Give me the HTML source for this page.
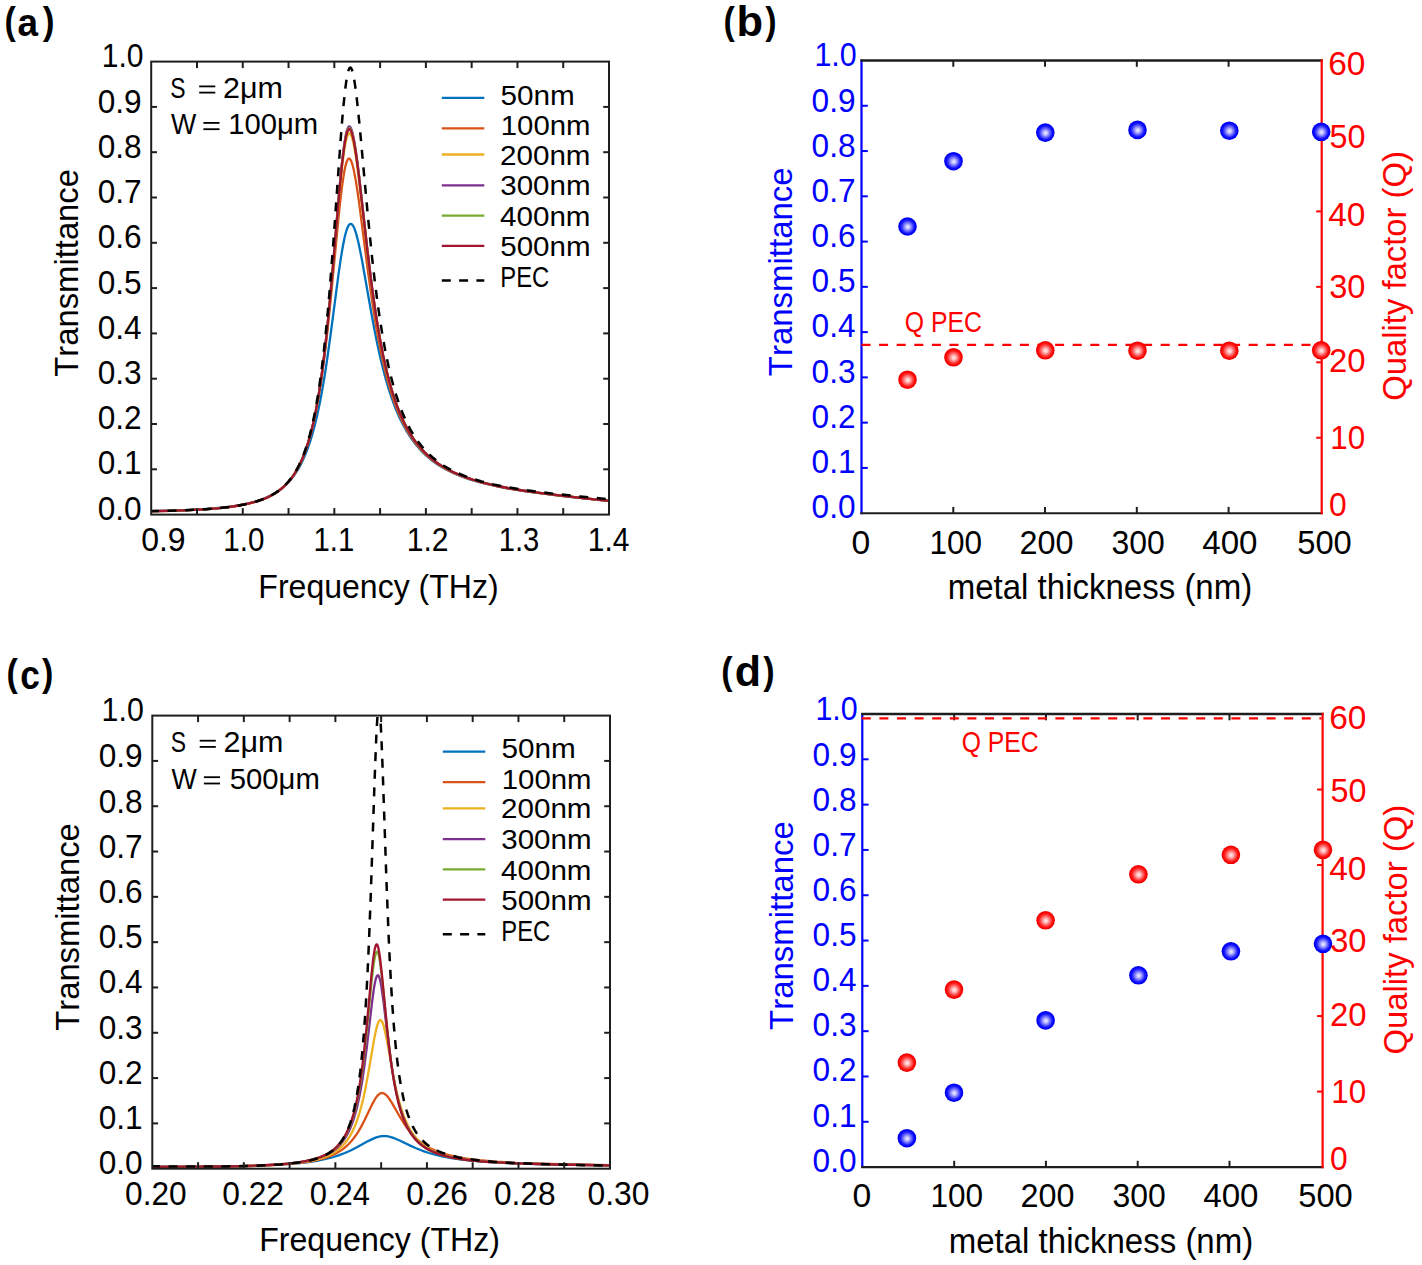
<!DOCTYPE html>
<html><head><meta charset="utf-8"><title>Transmittance and Q factor vs metal thickness</title>
<style>
html,body{margin:0;padding:0;background:#fff;}
body{width:1422px;height:1265px;overflow:hidden;}
svg{display:block;}
text{font-family:"Liberation Sans",sans-serif;font-kerning:none;white-space:pre;}
</style></head><body>
<svg width="1422" height="1265" viewBox="0 0 1422 1265">
<defs>
<radialGradient id="gb" cx="0.5" cy="0.5" r="0.5" fx="0.52" fy="0.53">
<stop offset="0" stop-color="#f2f2ff"/><stop offset="0.2" stop-color="#c4c4ff"/><stop offset="0.45" stop-color="#7070ff"/><stop offset="0.7" stop-color="#1c1cff"/><stop offset="0.86" stop-color="#0000ff"/><stop offset="1" stop-color="#0000e4"/>
</radialGradient>
<radialGradient id="gr" cx="0.5" cy="0.5" r="0.5" fx="0.52" fy="0.53">
<stop offset="0" stop-color="#fff2f2"/><stop offset="0.2" stop-color="#ffc4c4"/><stop offset="0.45" stop-color="#ff7070"/><stop offset="0.7" stop-color="#ff1c1c"/><stop offset="0.86" stop-color="#ff0000"/><stop offset="1" stop-color="#e40000"/>
</radialGradient>
</defs>
<rect width="1422" height="1265" fill="#fff"/>

<clipPath id="ca"><rect x="151.2" y="61.1" width="457.8" height="453.5"/></clipPath>
<g clip-path="url(#ca)" fill="none" stroke-width="2.3" stroke-linejoin="round" stroke-linecap="round">
<path d="M151.2,511.1 169.4,510.7 185.6,510.1 200.0,509.4 212.8,508.5 224.2,507.4 234.2,506.1 243.2,504.5 251.2,502.7 258.6,500.6 265.2,498.1 271.2,495.3 276.8,492.1 279.4,490.3 282.0,488.3 286.6,484.2 290.8,479.7 294.8,474.4 298.2,469.1 301.4,463.3 304.4,456.8 307.2,449.9 310.0,441.9 312.6,433.3 315.0,424.4 317.4,414.3 319.8,402.9 322.0,391.3 324.2,378.5 326.4,364.5 330.4,336.2 338.6,273.6 340.6,259.8 342.4,248.7 344.6,237.5 345.6,233.5 346.6,230.1 347.6,227.4 348.6,225.5 349.6,224.3 350.6,223.8 351.4,224.0 352.4,224.8 353.2,226.0 354.2,228.0 355.2,230.7 356.2,233.8 358.2,241.6 360.0,249.9 362.0,260.2 371.6,314.5 374.2,328.4 376.8,341.4 379.6,354.4 382.6,367.0 385.6,378.4 388.6,388.6 392.0,398.9 395.4,408.0 399.0,416.5 402.8,424.3 406.8,431.5 411.2,438.4 415.8,444.5 420.6,450.1 426.0,455.4 429.0,458.0 432.0,460.5 438.4,465.0 445.2,469.0 452.6,472.7 460.8,476.2 469.6,479.3 479.4,482.2 489.6,484.7 501.0,487.1 513.6,489.4 527.8,491.6 544.0,493.7 562.6,496.0 584.6,498.4 609.0,500.9" stroke="#0072BD"/>
<path d="M151.2,511.2 170.6,510.8 187.8,510.2 202.8,509.4 216.0,508.4 227.6,507.2 237.8,505.7 246.8,504.0 254.8,501.9 262.0,499.6 265.4,498.2 268.6,496.8 271.6,495.2 274.6,493.5 277.4,491.7 280.0,489.8 282.6,487.6 285.0,485.4 287.2,483.2 289.4,480.7 291.6,477.9 293.6,475.1 297.4,468.9 300.8,462.3 303.8,455.3 306.6,447.6 309.4,438.7 312.0,429.0 314.4,418.6 316.8,406.8 319.0,394.4 321.2,380.4 323.2,366.2 325.2,350.5 327.4,331.4 331.0,296.5 338.4,218.8 340.2,201.7 341.8,188.2 343.6,175.6 344.6,170.0 345.4,166.2 346.4,162.6 347.2,160.5 348.0,159.2 348.4,158.8 349.0,158.5 349.8,158.9 350.6,160.0 351.4,161.6 352.2,163.9 353.0,166.8 354.0,171.1 355.8,180.6 357.4,190.7 359.2,203.4 368.0,271.7 372.8,305.6 375.4,322.0 378.2,338.0 381.0,352.4 384.0,366.0 387.2,378.9 390.6,390.8 394.2,401.8 397.8,411.3 401.8,420.4 406.0,428.6 410.4,435.9 415.2,442.8 417.8,446.1 420.6,449.3 423.4,452.2 426.4,455.1 429.6,458.0 432.8,460.5 436.2,463.0 439.6,465.3 443.4,467.6 447.2,469.7 451.2,471.8 455.4,473.7 464.4,477.3 474.2,480.5 484.6,483.3 496.2,486.0 509.2,488.5 523.8,490.9 540.6,493.2 560.0,495.7 583.2,498.2 609.0,500.9" stroke="#D95319"/>
<path d="M151.2,511.2 170.8,510.8 188.2,510.2 203.4,509.4 216.8,508.3 228.4,507.1 238.8,505.6 248.0,503.7 256.0,501.6 263.2,499.2 266.6,497.8 269.8,496.3 272.8,494.6 275.8,492.8 278.6,490.9 281.2,488.9 283.8,486.7 286.2,484.3 288.4,482.0 290.6,479.3 292.8,476.4 294.8,473.4 296.8,470.1 298.6,466.8 302.0,459.7 305.0,452.2 307.8,444.0 310.6,434.3 313.2,423.8 315.6,412.5 318.0,399.5 320.2,385.9 322.4,370.4 324.4,354.7 326.4,337.2 328.4,318.0 332.0,279.4 339.0,198.2 340.6,181.2 342.2,166.1 344.0,152.0 345.0,145.7 345.8,141.5 346.8,137.5 347.6,135.2 348.4,133.8 348.8,133.4 349.2,133.2 349.6,133.3 350.0,133.5 350.8,134.6 351.6,136.5 352.4,139.0 354.0,146.0 355.8,156.4 357.4,167.6 359.2,181.8 367.8,256.0 372.4,292.1 375.0,310.2 377.8,327.9 380.6,343.6 383.4,357.6 386.6,371.7 389.8,384.0 393.2,395.4 396.8,405.9 400.6,415.3 404.8,424.3 409.2,432.3 411.6,436.2 414.0,439.7 416.6,443.3 419.4,446.7 422.2,449.9 425.2,453.0 428.4,456.0 431.6,458.8 435.0,461.4 438.4,463.9 442.0,466.2 445.8,468.4 449.8,470.6 454.0,472.6 458.4,474.5 463.0,476.4 472.8,479.8 483.4,482.8 495.0,485.5 508.0,488.1 522.8,490.6 539.6,493.0 559.2,495.5 582.6,498.1 609.0,500.8" stroke="#EDB120"/>
<path d="M151.2,511.2 170.8,510.8 188.4,510.2 203.6,509.3 217.0,508.3 228.6,507.1 239.0,505.5 248.2,503.7 256.2,501.6 263.4,499.1 266.8,497.7 270.0,496.1 273.0,494.5 276.0,492.7 278.8,490.7 281.4,488.7 284.0,486.5 286.4,484.1 288.6,481.7 290.8,479.0 293.0,476.0 295.0,473.0 297.0,469.7 298.8,466.4 302.2,459.1 305.2,451.5 308.0,443.1 310.8,433.2 313.4,422.5 315.8,411.0 318.2,397.7 320.4,383.8 322.4,369.5 324.4,353.5 326.4,335.7 328.4,316.2 332.0,276.9 339.2,191.2 340.8,174.0 342.4,158.7 344.2,144.4 345.8,135.0 346.8,130.8 347.6,128.5 348.4,127.0 348.8,126.6 349.2,126.4 349.6,126.5 350.0,126.7 350.8,127.9 351.6,129.8 352.4,132.4 354.0,139.6 355.8,150.5 357.4,162.0 359.0,174.9 367.6,251.2 372.2,288.3 374.8,306.9 377.6,325.0 380.4,341.2 383.2,355.5 386.4,370.0 389.6,382.5 393.0,394.1 396.6,404.8 400.4,414.4 404.6,423.5 409.0,431.7 411.4,435.6 413.8,439.2 416.4,442.8 419.2,446.3 422.0,449.5 425.0,452.6 428.0,455.5 431.2,458.3 434.6,461.0 438.0,463.5 441.6,465.8 445.4,468.1 449.4,470.3 453.6,472.3 458.0,474.3 462.6,476.2 472.4,479.6 483.0,482.6 494.6,485.4 507.6,488.0 522.4,490.5 539.2,492.9 559.0,495.4 582.6,498.1 609.0,500.8" stroke="#7E2F8E"/>
<path d="M151.2,511.2 170.8,510.8 188.4,510.2 203.6,509.3 217.0,508.3 228.6,507.1 239.0,505.5 248.2,503.7 256.2,501.6 263.4,499.1 266.8,497.7 270.0,496.1 273.0,494.5 276.0,492.7 278.8,490.8 281.4,488.7 284.0,486.5 286.4,484.1 288.6,481.7 290.8,479.0 293.0,476.1 295.0,473.0 297.0,469.7 298.8,466.4 302.2,459.2 305.2,451.5 308.0,443.2 310.8,433.3 313.4,422.6 315.8,411.1 318.2,397.9 320.4,384.0 322.4,369.7 324.4,353.8 326.4,336.1 328.4,316.7 332.0,277.6 339.0,194.7 340.6,177.4 342.2,162.0 344.0,147.5 345.0,141.0 345.8,136.8 346.8,132.6 347.6,130.3 348.4,128.8 348.8,128.4 349.2,128.2 349.6,128.3 350.0,128.5 350.8,129.7 351.6,131.6 352.4,134.1 354.0,141.3 355.8,152.1 357.4,163.5 359.0,176.3 367.6,252.0 370.0,271.9 372.4,290.4 375.0,308.8 377.6,325.5 380.4,341.6 383.2,355.8 386.4,370.2 389.6,382.7 393.0,394.3 396.6,404.9 400.4,414.5 404.6,423.6 409.0,431.8 411.4,435.7 413.8,439.3 416.4,442.8 419.2,446.3 422.0,449.6 425.0,452.7 428.0,455.6 431.2,458.3 434.6,461.0 438.0,463.5 441.6,465.9 445.4,468.1 449.4,470.3 453.6,472.4 458.0,474.3 462.6,476.2 467.4,477.9 472.6,479.7 483.2,482.7 494.8,485.4 507.8,488.0 522.6,490.5 539.4,492.9 559.2,495.4 582.6,498.1 609.0,500.8" stroke="#77AC30"/>
<path d="M151.2,511.2 170.8,510.8 188.4,510.2 203.6,509.3 217.0,508.3 228.6,507.1 239.0,505.5 248.2,503.7 256.2,501.6 263.4,499.1 266.8,497.7 270.0,496.1 273.0,494.5 276.0,492.7 278.8,490.8 281.4,488.7 284.0,486.5 286.4,484.1 288.6,481.7 290.8,479.0 293.0,476.1 295.0,473.1 297.0,469.7 298.8,466.4 302.2,459.2 305.2,451.6 308.0,443.2 310.8,433.4 313.4,422.6 315.8,411.2 318.2,397.9 320.4,384.1 322.4,369.8 324.4,354.0 326.4,336.3 328.4,316.9 332.0,277.9 339.0,195.4 340.6,178.1 342.2,162.7 344.0,148.3 345.0,141.9 345.8,137.6 346.8,133.5 347.6,131.2 348.4,129.7 348.8,129.3 349.2,129.1 349.6,129.2 350.0,129.5 350.8,130.6 351.6,132.4 352.4,135.0 354.0,142.1 355.8,152.8 357.4,164.3 359.0,177.0 367.6,252.4 370.0,272.2 372.4,290.7 375.0,309.1 377.6,325.7 380.4,341.7 383.2,356.0 386.4,370.3 389.6,382.8 393.0,394.4 396.6,405.0 400.4,414.6 404.6,423.7 409.0,431.8 411.4,435.7 413.8,439.3 416.4,442.9 419.2,446.4 422.0,449.6 425.0,452.7 428.0,455.6 431.2,458.4 434.6,461.1 438.0,463.5 441.6,465.9 445.4,468.1 449.4,470.3 453.6,472.4 458.0,474.3 462.6,476.2 467.4,477.9 472.6,479.7 483.2,482.7 494.8,485.5 507.8,488.0 522.6,490.5 539.4,492.9 559.2,495.4 582.6,498.1 609.0,500.8" stroke="#A2142F"/>
<path d="M151.2,511.1 171.4,510.7 189.6,510.0 205.4,509.2 219.0,508.1 230.8,506.7 241.2,505.1 250.4,503.1 254.6,502.0 258.6,500.7 262.4,499.4 266.0,497.9 269.4,496.3 272.6,494.6 275.6,492.8 278.4,490.8 281.2,488.6 283.8,486.4 286.2,484.0 288.6,481.3 290.8,478.6 293.0,475.5 295.0,472.4 297.0,469.0 299.0,465.1 300.8,461.3 304.0,453.5 307.0,444.7 309.8,435.0 312.6,423.5 315.2,410.9 317.6,397.3 319.8,383.0 322.0,366.6 324.0,349.6 326.0,330.6 327.8,311.7 329.8,288.5 333.4,241.8 340.4,142.8 342.0,122.3 343.4,106.4 345.2,89.3 346.2,81.8 347.0,76.8 347.8,72.9 348.6,70.1 349.4,68.3 349.8,67.8 350.4,67.5 350.8,67.8 351.2,68.2 351.8,69.5 352.6,71.9 353.4,75.3 355.0,84.6 356.6,96.8 359.6,125.4 367.6,213.0 372.0,256.8 374.4,278.0 377.0,298.7 379.6,317.2 382.4,334.8 385.4,351.4 388.6,366.7 392.0,380.7 395.6,393.4 399.4,404.8 403.4,415.1 405.6,420.0 407.8,424.6 410.0,428.8 412.4,433.0 415.0,437.1 417.6,440.9 420.4,444.6 423.4,448.2 426.4,451.5 429.6,454.7 433.0,457.7 436.4,460.5 440.0,463.1 443.8,465.7 447.8,468.1 452.0,470.3 456.4,472.5 461.0,474.5 465.8,476.4 471.0,478.3 481.6,481.5 493.4,484.4 506.4,487.1 521.2,489.5 537.8,491.8 557.0,494.1 580.2,496.5 609.0,499.2" stroke="#000" stroke-width="2.5" stroke-dasharray="9 8.6" stroke-dashoffset="1.27" stroke-linecap="butt"/>
</g>
<line x1="196.98" y1="514.6" x2="196.98" y2="508.1" stroke="#1e1e1e" stroke-width="2"/>
<line x1="196.98" y1="61.6" x2="196.98" y2="68.1" stroke="#1e1e1e" stroke-width="2"/>
<line x1="242.76" y1="514.6" x2="242.76" y2="508.1" stroke="#1e1e1e" stroke-width="2"/>
<line x1="242.76" y1="61.6" x2="242.76" y2="68.1" stroke="#1e1e1e" stroke-width="2"/>
<line x1="288.54" y1="514.6" x2="288.54" y2="508.1" stroke="#1e1e1e" stroke-width="2"/>
<line x1="288.54" y1="61.6" x2="288.54" y2="68.1" stroke="#1e1e1e" stroke-width="2"/>
<line x1="334.32" y1="514.6" x2="334.32" y2="508.1" stroke="#1e1e1e" stroke-width="2"/>
<line x1="334.32" y1="61.6" x2="334.32" y2="68.1" stroke="#1e1e1e" stroke-width="2"/>
<line x1="380.1" y1="514.6" x2="380.1" y2="508.1" stroke="#1e1e1e" stroke-width="2"/>
<line x1="380.1" y1="61.6" x2="380.1" y2="68.1" stroke="#1e1e1e" stroke-width="2"/>
<line x1="425.88" y1="514.6" x2="425.88" y2="508.1" stroke="#1e1e1e" stroke-width="2"/>
<line x1="425.88" y1="61.6" x2="425.88" y2="68.1" stroke="#1e1e1e" stroke-width="2"/>
<line x1="471.66" y1="514.6" x2="471.66" y2="508.1" stroke="#1e1e1e" stroke-width="2"/>
<line x1="471.66" y1="61.6" x2="471.66" y2="68.1" stroke="#1e1e1e" stroke-width="2"/>
<line x1="517.44" y1="514.6" x2="517.44" y2="508.1" stroke="#1e1e1e" stroke-width="2"/>
<line x1="517.44" y1="61.6" x2="517.44" y2="68.1" stroke="#1e1e1e" stroke-width="2"/>
<line x1="563.22" y1="514.6" x2="563.22" y2="508.1" stroke="#1e1e1e" stroke-width="2"/>
<line x1="563.22" y1="61.6" x2="563.22" y2="68.1" stroke="#1e1e1e" stroke-width="2"/>
<line x1="151.2" y1="106.9" x2="157" y2="106.9" stroke="#1e1e1e" stroke-width="2"/>
<line x1="609" y1="106.9" x2="603.2" y2="106.9" stroke="#1e1e1e" stroke-width="2"/>
<line x1="151.2" y1="152.2" x2="157" y2="152.2" stroke="#1e1e1e" stroke-width="2"/>
<line x1="609" y1="152.2" x2="603.2" y2="152.2" stroke="#1e1e1e" stroke-width="2"/>
<line x1="151.2" y1="197.5" x2="157" y2="197.5" stroke="#1e1e1e" stroke-width="2"/>
<line x1="609" y1="197.5" x2="603.2" y2="197.5" stroke="#1e1e1e" stroke-width="2"/>
<line x1="151.2" y1="242.8" x2="157" y2="242.8" stroke="#1e1e1e" stroke-width="2"/>
<line x1="609" y1="242.8" x2="603.2" y2="242.8" stroke="#1e1e1e" stroke-width="2"/>
<line x1="151.2" y1="288.1" x2="157" y2="288.1" stroke="#1e1e1e" stroke-width="2"/>
<line x1="609" y1="288.1" x2="603.2" y2="288.1" stroke="#1e1e1e" stroke-width="2"/>
<line x1="151.2" y1="333.4" x2="157" y2="333.4" stroke="#1e1e1e" stroke-width="2"/>
<line x1="609" y1="333.4" x2="603.2" y2="333.4" stroke="#1e1e1e" stroke-width="2"/>
<line x1="151.2" y1="378.7" x2="157" y2="378.7" stroke="#1e1e1e" stroke-width="2"/>
<line x1="609" y1="378.7" x2="603.2" y2="378.7" stroke="#1e1e1e" stroke-width="2"/>
<line x1="151.2" y1="424" x2="157" y2="424" stroke="#1e1e1e" stroke-width="2"/>
<line x1="609" y1="424" x2="603.2" y2="424" stroke="#1e1e1e" stroke-width="2"/>
<line x1="151.2" y1="469.3" x2="157" y2="469.3" stroke="#1e1e1e" stroke-width="2"/>
<line x1="609" y1="469.3" x2="603.2" y2="469.3" stroke="#1e1e1e" stroke-width="2"/>
<rect x="151.2" y="61.6" width="457.8" height="453" fill="none" stroke="#1e1e1e" stroke-width="2"/>
<text transform="translate(101.71 66.6) scale(0.9244 1)" font-size="32.5" fill="#000">1.0</text>
<text transform="translate(97.66 112.8) scale(0.9730 1)" font-size="32.5" fill="#000">0.9</text>
<text transform="translate(97.66 158) scale(0.9730 1)" font-size="32.5" fill="#000">0.8</text>
<text transform="translate(97.66 203.2) scale(0.9730 1)" font-size="32.5" fill="#000">0.7</text>
<text transform="translate(97.66 248.4) scale(0.9730 1)" font-size="32.5" fill="#000">0.6</text>
<text transform="translate(97.66 293.6) scale(0.9730 1)" font-size="32.5" fill="#000">0.5</text>
<text transform="translate(97.66 338.8) scale(0.9730 1)" font-size="32.5" fill="#000">0.4</text>
<text transform="translate(97.66 384) scale(0.9730 1)" font-size="32.5" fill="#000">0.3</text>
<text transform="translate(97.66 429.2) scale(0.9730 1)" font-size="32.5" fill="#000">0.2</text>
<text transform="translate(97.66 474.4) scale(0.9730 1)" font-size="32.5" fill="#000">0.1</text>
<text transform="translate(97.66 519.6) scale(0.9730 1)" font-size="32.5" fill="#000">0.0</text>
<text transform="translate(141.15 551) scale(0.9842 1)" font-size="32.5" fill="#000">0.9</text>
<text transform="translate(223.35 551) scale(0.9099 1)" font-size="32.5" fill="#000">1.0</text>
<text transform="translate(313.57 551) scale(0.9023 1)" font-size="32.5" fill="#000">1.1</text>
<text transform="translate(406.71 551) scale(0.9253 1)" font-size="32.5" fill="#000">1.2</text>
<text transform="translate(498.78 551) scale(0.8964 1)" font-size="32.5" fill="#000">1.3</text>
<text transform="translate(587.72 551) scale(0.9221 1)" font-size="32.5" fill="#000">1.4</text>
<line x1="441.8" y1="97.8" x2="484.3" y2="97.8" stroke="#0072BD" stroke-width="2.3"/>
<line x1="441.8" y1="128.4" x2="484.3" y2="128.4" stroke="#D95319" stroke-width="2.3"/>
<line x1="441.8" y1="154.5" x2="484.3" y2="154.5" stroke="#EDB120" stroke-width="2.3"/>
<line x1="441.8" y1="185.3" x2="484.3" y2="185.3" stroke="#7E2F8E" stroke-width="2.3"/>
<line x1="441.8" y1="215.6" x2="484.3" y2="215.6" stroke="#77AC30" stroke-width="2.3"/>
<line x1="441.8" y1="245.8" x2="484.3" y2="245.8" stroke="#A2142F" stroke-width="2.3"/>
<line x1="441.8" y1="280.5" x2="484.3" y2="280.5" stroke="#000" stroke-width="2.5" stroke-dasharray="9 8.3"/>
<text transform="translate(500.41 104.5) scale(1.0615 1)" font-size="28" fill="#000">50nm</text>
<text transform="translate(500.76 135.4) scale(1.0486 1)" font-size="28" fill="#000">100nm</text>
<text transform="translate(500.11 164.6) scale(1.0563 1)" font-size="28" fill="#000">200nm</text>
<text transform="translate(500.28 195.4) scale(1.0544 1)" font-size="28" fill="#000">300nm</text>
<text transform="translate(500.12 226.1) scale(1.0562 1)" font-size="28" fill="#000">400nm</text>
<text transform="translate(500.22 256.4) scale(1.0551 1)" font-size="28" fill="#000">500nm</text>
<text transform="translate(500.35 287.1) scale(0.8072 1)" font-size="29.5" fill="#000">PEC</text>
<text transform="translate(258.37 597.7) scale(0.9426 1)" font-size="34" fill="#000">Frequency (THz)</text>
<text transform="translate(77.9 376.64) rotate(-90) scale(0.9642 1)" font-size="34" fill="#000">Transmittance</text>
<text transform="translate(170.36 97.6) scale(0.7567 1)" font-size="30.3" fill="#000">S</text>
<rect x="199.2" y="85.5" width="16.1" height="1.8" fill="#000"/>
<rect x="199.2" y="91.7" width="16.1" height="1.8" fill="#000"/>
<text transform="translate(222.97 97.6) scale(1.0066 1)" font-size="30.3" fill="#000">2μm</text>
<text transform="translate(170.98 134.4) scale(0.8815 1)" font-size="30.3" fill="#000">W</text>
<rect x="203.4" y="122" width="16.1" height="1.8" fill="#000"/>
<rect x="203.4" y="128.3" width="16.1" height="1.8" fill="#000"/>
<text transform="translate(228.17 134.4) scale(0.9657 1)" font-size="30.3" fill="#000">100μm</text>
<text transform="translate(4.51 33.89) scale(0.8807 1)" font-size="38.62" fill="#000" font-weight="bold">(</text>
<text transform="translate(17.62 35.51) scale(0.9371 1)" font-size="39.43" fill="#000" font-weight="bold">a</text>
<text transform="translate(42.87 33.89) scale(0.9174 1)" font-size="38.62" fill="#000" font-weight="bold">)</text>
<clipPath id="cc"><rect x="152.3" y="715.1" width="457.7" height="453.6"/></clipPath>
<g clip-path="url(#cc)" fill="none" stroke-width="2.3" stroke-linejoin="round" stroke-linecap="round">
<path d="M152.3,1166.9 181.1,1166.9 208.7,1166.7 232.7,1166.3 253.1,1165.8 270.1,1165.1 284.7,1164.3 297.3,1163.3 308.5,1162.0 316.9,1160.8 324.7,1159.2 331.9,1157.5 338.5,1155.4 344.9,1153.0 351.1,1150.2 356.9,1147.3 368.1,1141.1 373.3,1138.6 376.3,1137.4 379.1,1136.7 381.7,1136.2 384.3,1136.1 386.7,1136.2 389.1,1136.6 391.7,1137.3 394.3,1138.2 399.1,1140.2 410.3,1145.6 416.1,1148.2 422.5,1150.8 429.1,1153.0 435.9,1154.9 443.3,1156.6 451.3,1158.0 460.1,1159.3 471.1,1160.6 483.5,1161.6 497.5,1162.5 513.5,1163.3 531.7,1163.9 552.9,1164.4 609.9,1165.3" stroke="#0072BD"/>
<path d="M152.3,1166.8 187.9,1166.8 222.5,1166.6 250.3,1166.0 272.5,1165.1 289.7,1163.9 297.1,1163.2 303.9,1162.4 309.9,1161.5 315.5,1160.4 320.7,1159.2 325.3,1157.8 329.3,1156.4 333.1,1154.8 336.7,1153.0 339.9,1151.1 342.9,1149.1 345.9,1146.6 348.7,1144.0 351.3,1141.2 353.7,1138.3 355.9,1135.3 358.3,1131.6 360.5,1127.9 364.5,1120.3 372.3,1104.1 375.3,1098.7 377.1,1096.1 378.7,1094.4 380.3,1093.4 381.1,1093.1 381.9,1093.0 383.5,1093.3 385.1,1094.2 386.9,1095.8 388.7,1098.0 391.9,1102.9 400.1,1117.2 404.7,1124.6 407.1,1128.0 409.7,1131.4 412.3,1134.4 414.9,1137.2 417.9,1140.0 420.9,1142.4 424.1,1144.7 427.3,1146.7 430.9,1148.6 434.7,1150.4 438.7,1152.0 442.9,1153.4 447.9,1154.9 453.1,1156.1 458.9,1157.3 465.1,1158.4 471.9,1159.3 479.3,1160.2 496.3,1161.6 516.3,1162.8 540.7,1163.7 570.7,1164.4 609.9,1165.1" stroke="#D95319"/>
<path d="M152.3,1166.8 194.5,1166.8 233.7,1166.4 249.3,1166.0 263.1,1165.5 275.1,1164.9 285.5,1164.2 294.5,1163.3 302.3,1162.4 309.3,1161.2 315.5,1159.9 321.1,1158.3 326.1,1156.5 330.7,1154.4 334.9,1152.0 338.5,1149.5 341.9,1146.4 345.1,1143.0 347.9,1139.3 350.5,1135.1 353.1,1130.1 355.3,1125.1 357.5,1119.2 359.5,1113.0 361.3,1106.6 363.1,1099.3 364.9,1091.1 368.1,1074.3 373.7,1041.6 375.9,1030.6 377.1,1025.9 378.3,1022.5 378.9,1021.3 379.5,1020.5 379.9,1020.2 380.5,1020.1 380.9,1020.2 381.5,1020.8 382.5,1022.6 383.5,1025.4 384.7,1029.9 386.7,1039.4 392.5,1071.4 395.7,1087.2 397.5,1095.0 399.3,1101.9 401.3,1108.7 403.3,1114.6 405.7,1120.6 408.1,1125.8 410.7,1130.5 413.5,1134.7 416.5,1138.5 419.7,1141.9 423.3,1145.0 427.1,1147.6 431.5,1150.2 436.3,1152.4 441.5,1154.3 447.3,1156.0 453.7,1157.4 460.9,1158.7 468.9,1159.9 477.9,1160.9 487.7,1161.7 498.7,1162.4 525.3,1163.6 559.5,1164.5 609.9,1165.4" stroke="#EDB120"/>
<path d="M152.3,1166.8 196.9,1166.8 218.3,1166.6 237.1,1166.2 252.7,1165.8 266.3,1165.2 277.9,1164.5 288.1,1163.7 296.9,1162.7 304.7,1161.5 311.5,1160.1 317.5,1158.5 322.9,1156.5 327.7,1154.3 332.1,1151.7 335.9,1148.9 339.5,1145.4 342.7,1141.6 345.7,1137.2 348.3,1132.5 350.7,1127.2 353.1,1120.8 355.3,1113.7 357.3,1106.1 359.1,1098.0 360.7,1089.7 362.5,1079.1 364.1,1068.4 366.9,1046.7 372.1,1001.8 373.9,988.6 374.9,982.9 375.9,978.6 376.9,976.0 377.3,975.5 377.9,975.2 378.3,975.5 378.7,976.0 379.7,978.7 380.5,982.0 381.5,987.6 383.5,1001.9 388.9,1046.5 391.5,1065.3 393.1,1075.4 394.9,1085.4 396.7,1094.1 398.5,1101.7 400.7,1109.6 402.9,1116.2 405.3,1122.2 407.9,1127.7 410.7,1132.5 413.9,1137.0 417.3,1140.9 421.1,1144.4 425.3,1147.5 429.9,1150.1 435.1,1152.5 440.7,1154.5 447.1,1156.3 454.1,1157.8 462.1,1159.2 471.3,1160.4 481.3,1161.3 492.5,1162.2 505.3,1162.9 520.1,1163.5 555.9,1164.5 609.9,1165.4" stroke="#7E2F8E"/>
<path d="M152.3,1166.8 198.1,1166.8 219.7,1166.5 238.7,1166.2 254.3,1165.7 267.9,1165.1 279.5,1164.4 289.7,1163.4 298.5,1162.3 306.1,1161.0 312.7,1159.5 318.7,1157.7 323.9,1155.7 328.7,1153.2 332.9,1150.4 336.7,1147.2 340.1,1143.5 343.3,1139.2 346.1,1134.5 348.7,1129.1 351.1,1123.0 353.5,1115.6 355.5,1108.1 357.5,1099.1 359.1,1090.7 360.7,1081.1 362.3,1070.0 363.9,1057.5 366.7,1031.9 371.5,982.6 373.3,966.8 374.3,960.0 375.3,955.0 375.9,953.1 376.3,952.2 376.7,951.8 377.1,951.7 377.5,952.0 377.9,952.6 378.7,955.1 379.5,959.0 380.5,965.6 382.5,982.7 387.5,1032.0 389.9,1052.7 391.5,1064.8 393.1,1075.4 394.9,1085.8 396.7,1094.7 398.7,1103.1 400.9,1110.9 403.3,1117.9 405.9,1124.2 408.7,1129.7 411.7,1134.5 415.1,1138.9 418.9,1142.8 422.9,1146.1 427.5,1149.1 432.5,1151.6 438.1,1153.8 444.5,1155.8 451.5,1157.4 459.5,1158.9 468.7,1160.1 478.7,1161.1 490.1,1162.0 503.1,1162.8 517.9,1163.4 554.5,1164.5 609.9,1165.4" stroke="#77AC30"/>
<path d="M152.3,1166.8 198.7,1166.7 220.3,1166.5 239.3,1166.1 254.9,1165.7 268.5,1165.0 280.1,1164.3 290.1,1163.4 298.7,1162.3 306.3,1160.9 312.9,1159.4 318.9,1157.5 324.1,1155.4 328.9,1152.9 333.1,1150.0 336.9,1146.6 340.3,1142.8 343.5,1138.3 346.3,1133.3 348.9,1127.7 351.3,1121.2 353.5,1114.1 355.5,1106.2 357.5,1096.9 359.1,1088.1 360.7,1077.9 362.3,1066.3 363.9,1053.0 366.5,1028.0 371.3,976.3 373.1,959.8 374.1,952.7 374.9,948.4 375.5,946.2 375.9,945.2 376.3,944.6 376.7,944.4 377.1,944.6 377.5,945.2 378.3,947.7 379.1,951.7 380.1,958.5 382.1,976.4 387.1,1028.2 389.5,1049.9 391.1,1062.4 392.7,1073.4 394.3,1083.0 396.1,1092.4 398.1,1101.3 400.3,1109.4 402.7,1116.7 405.3,1123.2 408.1,1129.0 411.1,1133.9 414.5,1138.4 418.1,1142.3 422.1,1145.6 426.7,1148.7 431.7,1151.3 437.3,1153.6 443.7,1155.6 450.7,1157.3 458.7,1158.8 467.7,1160.0 477.7,1161.1 489.1,1162.0 502.1,1162.7 517.1,1163.4 553.9,1164.5 609.9,1165.4" stroke="#A2142F"/>
<path d="M152.3,1166.2 173.7,1166.6 199.5,1166.6 225.5,1166.4 248.3,1166.0 265.7,1165.3 280.1,1164.5 292.1,1163.3 302.3,1161.9 310.7,1160.2 314.5,1159.2 317.9,1158.2 321.3,1156.9 324.3,1155.6 327.1,1154.2 329.7,1152.6 332.1,1151.0 334.5,1149.0 336.7,1147.0 338.7,1144.8 340.7,1142.3 342.5,1139.7 344.3,1136.7 345.9,1133.7 347.5,1130.2 348.9,1126.8 350.3,1122.8 351.7,1118.4 353.1,1113.3 354.3,1108.3 356.5,1097.4 358.5,1085.0 360.3,1071.2 362.1,1054.1 363.7,1035.5 365.1,1015.9 366.5,992.8 367.7,969.6 368.9,943.1 370.7,896.9 374.7,777.4 376.3,736.6 377.1,721.7 377.7,713.8 378.3,708.9 378.7,707.6 378.9,707.4 379.1,707.7 379.5,709.5 380.1,715.1 380.7,723.9 381.3,735.4 382.7,770.5 386.5,882.2 388.5,933.0 389.7,958.9 391.1,985.2 392.5,1007.4 393.9,1026.3 395.5,1044.3 397.3,1061.0 399.3,1076.0 401.5,1089.1 403.9,1100.5 406.5,1110.3 407.9,1114.6 409.5,1119.0 411.1,1122.9 412.7,1126.3 414.5,1129.7 416.3,1132.6 418.3,1135.5 420.3,1138.0 422.5,1140.4 424.9,1142.7 427.3,1144.7 429.9,1146.6 432.7,1148.3 435.7,1149.9 438.9,1151.4 442.5,1152.9 446.1,1154.1 450.1,1155.3 458.9,1157.4 468.7,1159.0 480.1,1160.5 493.5,1161.7 509.1,1162.7 527.3,1163.5 549.1,1164.3 609.9,1165.7" stroke="#000" stroke-width="2.5" stroke-dasharray="9 8.6" stroke-dashoffset="1.37" stroke-linecap="butt"/>
</g>
<line x1="198.07" y1="1168.7" x2="198.07" y2="1162.2" stroke="#1e1e1e" stroke-width="2"/>
<line x1="198.07" y1="715.6" x2="198.07" y2="722.1" stroke="#1e1e1e" stroke-width="2"/>
<line x1="243.84" y1="1168.7" x2="243.84" y2="1162.2" stroke="#1e1e1e" stroke-width="2"/>
<line x1="243.84" y1="715.6" x2="243.84" y2="722.1" stroke="#1e1e1e" stroke-width="2"/>
<line x1="289.61" y1="1168.7" x2="289.61" y2="1162.2" stroke="#1e1e1e" stroke-width="2"/>
<line x1="289.61" y1="715.6" x2="289.61" y2="722.1" stroke="#1e1e1e" stroke-width="2"/>
<line x1="335.38" y1="1168.7" x2="335.38" y2="1162.2" stroke="#1e1e1e" stroke-width="2"/>
<line x1="335.38" y1="715.6" x2="335.38" y2="722.1" stroke="#1e1e1e" stroke-width="2"/>
<line x1="381.15" y1="1168.7" x2="381.15" y2="1162.2" stroke="#1e1e1e" stroke-width="2"/>
<line x1="381.15" y1="715.6" x2="381.15" y2="722.1" stroke="#1e1e1e" stroke-width="2"/>
<line x1="426.92" y1="1168.7" x2="426.92" y2="1162.2" stroke="#1e1e1e" stroke-width="2"/>
<line x1="426.92" y1="715.6" x2="426.92" y2="722.1" stroke="#1e1e1e" stroke-width="2"/>
<line x1="472.69" y1="1168.7" x2="472.69" y2="1162.2" stroke="#1e1e1e" stroke-width="2"/>
<line x1="472.69" y1="715.6" x2="472.69" y2="722.1" stroke="#1e1e1e" stroke-width="2"/>
<line x1="518.46" y1="1168.7" x2="518.46" y2="1162.2" stroke="#1e1e1e" stroke-width="2"/>
<line x1="518.46" y1="715.6" x2="518.46" y2="722.1" stroke="#1e1e1e" stroke-width="2"/>
<line x1="564.23" y1="1168.7" x2="564.23" y2="1162.2" stroke="#1e1e1e" stroke-width="2"/>
<line x1="564.23" y1="715.6" x2="564.23" y2="722.1" stroke="#1e1e1e" stroke-width="2"/>
<line x1="152.3" y1="760.91" x2="158.1" y2="760.91" stroke="#1e1e1e" stroke-width="2"/>
<line x1="610" y1="760.91" x2="604.2" y2="760.91" stroke="#1e1e1e" stroke-width="2"/>
<line x1="152.3" y1="806.22" x2="158.1" y2="806.22" stroke="#1e1e1e" stroke-width="2"/>
<line x1="610" y1="806.22" x2="604.2" y2="806.22" stroke="#1e1e1e" stroke-width="2"/>
<line x1="152.3" y1="851.53" x2="158.1" y2="851.53" stroke="#1e1e1e" stroke-width="2"/>
<line x1="610" y1="851.53" x2="604.2" y2="851.53" stroke="#1e1e1e" stroke-width="2"/>
<line x1="152.3" y1="896.84" x2="158.1" y2="896.84" stroke="#1e1e1e" stroke-width="2"/>
<line x1="610" y1="896.84" x2="604.2" y2="896.84" stroke="#1e1e1e" stroke-width="2"/>
<line x1="152.3" y1="942.15" x2="158.1" y2="942.15" stroke="#1e1e1e" stroke-width="2"/>
<line x1="610" y1="942.15" x2="604.2" y2="942.15" stroke="#1e1e1e" stroke-width="2"/>
<line x1="152.3" y1="987.46" x2="158.1" y2="987.46" stroke="#1e1e1e" stroke-width="2"/>
<line x1="610" y1="987.46" x2="604.2" y2="987.46" stroke="#1e1e1e" stroke-width="2"/>
<line x1="152.3" y1="1032.77" x2="158.1" y2="1032.77" stroke="#1e1e1e" stroke-width="2"/>
<line x1="610" y1="1032.77" x2="604.2" y2="1032.77" stroke="#1e1e1e" stroke-width="2"/>
<line x1="152.3" y1="1078.08" x2="158.1" y2="1078.08" stroke="#1e1e1e" stroke-width="2"/>
<line x1="610" y1="1078.08" x2="604.2" y2="1078.08" stroke="#1e1e1e" stroke-width="2"/>
<line x1="152.3" y1="1123.39" x2="158.1" y2="1123.39" stroke="#1e1e1e" stroke-width="2"/>
<line x1="610" y1="1123.39" x2="604.2" y2="1123.39" stroke="#1e1e1e" stroke-width="2"/>
<rect x="152.3" y="715.6" width="457.7" height="453.1" fill="none" stroke="#1e1e1e" stroke-width="2"/>
<text transform="translate(101.59 720.6) scale(0.9340 1)" font-size="32.5" fill="#000">1.0</text>
<text transform="translate(98.76 767.4) scale(0.9730 1)" font-size="32.5" fill="#000">0.9</text>
<text transform="translate(98.76 812.6) scale(0.9730 1)" font-size="32.5" fill="#000">0.8</text>
<text transform="translate(98.76 857.8) scale(0.9730 1)" font-size="32.5" fill="#000">0.7</text>
<text transform="translate(98.76 903) scale(0.9730 1)" font-size="32.5" fill="#000">0.6</text>
<text transform="translate(98.76 948.2) scale(0.9730 1)" font-size="32.5" fill="#000">0.5</text>
<text transform="translate(98.76 993.4) scale(0.9730 1)" font-size="32.5" fill="#000">0.4</text>
<text transform="translate(98.76 1038.6) scale(0.9730 1)" font-size="32.5" fill="#000">0.3</text>
<text transform="translate(98.76 1083.8) scale(0.9730 1)" font-size="32.5" fill="#000">0.2</text>
<text transform="translate(98.76 1129) scale(0.9730 1)" font-size="32.5" fill="#000">0.1</text>
<text transform="translate(98.76 1174.2) scale(0.9730 1)" font-size="32.5" fill="#000">0.0</text>
<text transform="translate(125.06 1205.1) scale(0.9734 1)" font-size="32.5" fill="#000">0.20</text>
<text transform="translate(222.16 1205.1) scale(0.9776 1)" font-size="32.5" fill="#000">0.22</text>
<text transform="translate(309.79 1205.1) scale(0.9519 1)" font-size="32.5" fill="#000">0.24</text>
<text transform="translate(406.36 1205.1) scale(0.9743 1)" font-size="32.5" fill="#000">0.26</text>
<text transform="translate(493.96 1205.1) scale(0.9740 1)" font-size="32.5" fill="#000">0.28</text>
<text transform="translate(587.46 1205.1) scale(0.9800 1)" font-size="32.5" fill="#000">0.30</text>
<line x1="442.8" y1="751.6" x2="485.3" y2="751.6" stroke="#0072BD" stroke-width="2.3"/>
<line x1="442.8" y1="782.2" x2="485.3" y2="782.2" stroke="#D95319" stroke-width="2.3"/>
<line x1="442.8" y1="808.3" x2="485.3" y2="808.3" stroke="#EDB120" stroke-width="2.3"/>
<line x1="442.8" y1="839.1" x2="485.3" y2="839.1" stroke="#7E2F8E" stroke-width="2.3"/>
<line x1="442.8" y1="869.4" x2="485.3" y2="869.4" stroke="#77AC30" stroke-width="2.3"/>
<line x1="442.8" y1="899.6" x2="485.3" y2="899.6" stroke="#A2142F" stroke-width="2.3"/>
<line x1="442.8" y1="934.3" x2="485.3" y2="934.3" stroke="#000" stroke-width="2.5" stroke-dasharray="9 8.3"/>
<text transform="translate(501.41 758.3) scale(1.0615 1)" font-size="28" fill="#000">50nm</text>
<text transform="translate(501.76 789.2) scale(1.0486 1)" font-size="28" fill="#000">100nm</text>
<text transform="translate(501.11 818.4) scale(1.0563 1)" font-size="28" fill="#000">200nm</text>
<text transform="translate(501.28 849.2) scale(1.0544 1)" font-size="28" fill="#000">300nm</text>
<text transform="translate(501.12 879.9) scale(1.0562 1)" font-size="28" fill="#000">400nm</text>
<text transform="translate(501.22 910.2) scale(1.0551 1)" font-size="28" fill="#000">500nm</text>
<text transform="translate(501.35 940.9) scale(0.8072 1)" font-size="29.5" fill="#000">PEC</text>
<text transform="translate(259.17 1250.7) scale(0.9446 1)" font-size="34" fill="#000">Frequency (THz)</text>
<text transform="translate(78.6 1030.74) rotate(-90) scale(0.9642 1)" font-size="34" fill="#000">Transmittance</text>
<text transform="translate(170.86 751.9) scale(0.7567 1)" font-size="30.3" fill="#000">S</text>
<rect x="199.7" y="739.8" width="16.1" height="1.8" fill="#000"/>
<rect x="199.7" y="746" width="16.1" height="1.8" fill="#000"/>
<text transform="translate(223.47 751.9) scale(1.0066 1)" font-size="30.3" fill="#000">2μm</text>
<text transform="translate(171.48 788.7) scale(0.8815 1)" font-size="30.3" fill="#000">W</text>
<rect x="203.9" y="776.3" width="16.1" height="1.8" fill="#000"/>
<rect x="203.9" y="782.6" width="16.1" height="1.8" fill="#000"/>
<text transform="translate(229.73 788.7) scale(0.9662 1)" font-size="30.3" fill="#000">500μm</text>
<text transform="translate(6.41 686.2) scale(0.8931 1)" font-size="38.08" fill="#000" font-weight="bold">(</text>
<text transform="translate(20.32 688.5) scale(0.8702 1)" font-size="40.52" fill="#000" font-weight="bold">c</text>
<text transform="translate(42.07 686.2) scale(0.8931 1)" font-size="38.08" fill="#000" font-weight="bold">)</text>
<line x1="953.3" y1="513.2" x2="953.3" y2="506.9" stroke="#1e1e1e" stroke-width="2"/>
<line x1="953.3" y1="60.5" x2="953.3" y2="66.8" stroke="#1e1e1e" stroke-width="2"/>
<line x1="1045" y1="513.2" x2="1045" y2="506.9" stroke="#1e1e1e" stroke-width="2"/>
<line x1="1045" y1="60.5" x2="1045" y2="66.8" stroke="#1e1e1e" stroke-width="2"/>
<line x1="1136.8" y1="513.2" x2="1136.8" y2="506.9" stroke="#1e1e1e" stroke-width="2"/>
<line x1="1136.8" y1="60.5" x2="1136.8" y2="66.8" stroke="#1e1e1e" stroke-width="2"/>
<line x1="1228.6" y1="513.2" x2="1228.6" y2="506.9" stroke="#1e1e1e" stroke-width="2"/>
<line x1="1228.6" y1="60.5" x2="1228.6" y2="66.8" stroke="#1e1e1e" stroke-width="2"/>
<line x1="861.5" y1="105.77" x2="867.8" y2="105.77" stroke="#0000ff" stroke-width="2"/>
<line x1="861.5" y1="151.04" x2="867.8" y2="151.04" stroke="#0000ff" stroke-width="2"/>
<line x1="861.5" y1="196.31" x2="867.8" y2="196.31" stroke="#0000ff" stroke-width="2"/>
<line x1="861.5" y1="241.58" x2="867.8" y2="241.58" stroke="#0000ff" stroke-width="2"/>
<line x1="861.5" y1="286.85" x2="867.8" y2="286.85" stroke="#0000ff" stroke-width="2"/>
<line x1="861.5" y1="332.12" x2="867.8" y2="332.12" stroke="#0000ff" stroke-width="2"/>
<line x1="861.5" y1="377.39" x2="867.8" y2="377.39" stroke="#0000ff" stroke-width="2"/>
<line x1="861.5" y1="422.66" x2="867.8" y2="422.66" stroke="#0000ff" stroke-width="2"/>
<line x1="861.5" y1="467.93" x2="867.8" y2="467.93" stroke="#0000ff" stroke-width="2"/>
<line x1="1321.7" y1="135.95" x2="1316.2" y2="135.95" stroke="#ff0000" stroke-width="2"/>
<line x1="1321.7" y1="211.4" x2="1316.2" y2="211.4" stroke="#ff0000" stroke-width="2"/>
<line x1="1321.7" y1="286.85" x2="1316.2" y2="286.85" stroke="#ff0000" stroke-width="2"/>
<line x1="1321.7" y1="362.3" x2="1316.2" y2="362.3" stroke="#ff0000" stroke-width="2"/>
<line x1="1321.7" y1="437.75" x2="1316.2" y2="437.75" stroke="#ff0000" stroke-width="2"/>
<line x1="861.5" y1="59.5" x2="861.5" y2="514.2" stroke="#0000ff" stroke-width="2.2"/>
<line x1="860.4" y1="60.5" x2="1322.7" y2="60.5" stroke="#1e1e1e" stroke-width="2.3"/>
<line x1="860.4" y1="513.2" x2="1322.7" y2="513.2" stroke="#1e1e1e" stroke-width="2.1"/>
<line x1="1321.7" y1="59.3" x2="1321.7" y2="514.3" stroke="#ff0000" stroke-width="2.2"/>
<line x1="861.5" y1="344.9" x2="1313" y2="344.9" stroke="#ff0000" stroke-width="2.3" stroke-dasharray="9 8.6"/>
<circle cx="907.5" cy="226.5" r="9.3" fill="url(#gb)"/>
<circle cx="953.5" cy="161.2" r="9.3" fill="url(#gb)"/>
<circle cx="1045.3" cy="132.6" r="9.3" fill="url(#gb)"/>
<circle cx="1137.5" cy="129.9" r="9.3" fill="url(#gb)"/>
<circle cx="1229.3" cy="130.7" r="9.3" fill="url(#gb)"/>
<circle cx="1321.2" cy="131.8" r="9.3" fill="url(#gb)"/>
<circle cx="907.5" cy="379.7" r="9.3" fill="url(#gr)"/>
<circle cx="953.5" cy="357.3" r="9.3" fill="url(#gr)"/>
<circle cx="1045.3" cy="350.3" r="9.3" fill="url(#gr)"/>
<circle cx="1137.5" cy="350.7" r="9.3" fill="url(#gr)"/>
<circle cx="1229.3" cy="350.7" r="9.3" fill="url(#gr)"/>
<circle cx="1321.2" cy="350.3" r="9.3" fill="url(#gr)"/>
<text transform="translate(814.38 65.7) scale(0.9364 1)" font-size="32.5" fill="#0000ff">1.0</text>
<text transform="translate(811.56 111.9) scale(0.9730 1)" font-size="32.5" fill="#0000ff">0.9</text>
<text transform="translate(811.56 157) scale(0.9730 1)" font-size="32.5" fill="#0000ff">0.8</text>
<text transform="translate(811.56 202.1) scale(0.9730 1)" font-size="32.5" fill="#0000ff">0.7</text>
<text transform="translate(811.56 247.2) scale(0.9730 1)" font-size="32.5" fill="#0000ff">0.6</text>
<text transform="translate(811.56 292.3) scale(0.9730 1)" font-size="32.5" fill="#0000ff">0.5</text>
<text transform="translate(811.56 337.4) scale(0.9730 1)" font-size="32.5" fill="#0000ff">0.4</text>
<text transform="translate(811.56 382.5) scale(0.9730 1)" font-size="32.5" fill="#0000ff">0.3</text>
<text transform="translate(811.56 427.6) scale(0.9730 1)" font-size="32.5" fill="#0000ff">0.2</text>
<text transform="translate(811.56 472.7) scale(0.9730 1)" font-size="32.5" fill="#0000ff">0.1</text>
<text transform="translate(811.56 517.8) scale(0.9730 1)" font-size="32.5" fill="#0000ff">0.0</text>
<text transform="translate(1328.2 75) scale(1.0292 1)" font-size="32.5" fill="#ff0000">60</text>
<text transform="translate(1329.41 147.7) scale(0.9947 1)" font-size="32.5" fill="#ff0000">50</text>
<text transform="translate(1328.23 225.8) scale(1.0312 1)" font-size="32.5" fill="#ff0000">40</text>
<text transform="translate(1329.16 298.4) scale(1.0047 1)" font-size="32.5" fill="#ff0000">30</text>
<text transform="translate(1328.94 371.8) scale(1.0137 1)" font-size="32.5" fill="#ff0000">20</text>
<text transform="translate(1330.31 449.1) scale(0.9659 1)" font-size="32.5" fill="#ff0000">10</text>
<text transform="translate(1329.06 516.3) scale(0.9784 1)" font-size="32.5" fill="#ff0000">0</text>
<text transform="translate(851.58 553.5) scale(1.0363 1)" font-size="32.5" fill="#000">0</text>
<text transform="translate(929.4 553.5) scale(0.9707 1)" font-size="32.5" fill="#000">100</text>
<text transform="translate(1019.47 553.5) scale(0.9957 1)" font-size="32.5" fill="#000">200</text>
<text transform="translate(1111.38 553.5) scale(0.9823 1)" font-size="32.5" fill="#000">300</text>
<text transform="translate(1202.24 553.5) scale(1.0190 1)" font-size="32.5" fill="#000">400</text>
<text transform="translate(1297.19 553.5) scale(1.0067 1)" font-size="32.5" fill="#000">500</text>
<text transform="translate(947.71 598.8) scale(0.9653 1)" font-size="34.2" fill="#000">metal thickness (nm)</text>
<text transform="translate(791.5 376.14) rotate(-90) scale(0.9694 1)" font-size="34" fill="#0000ff">Transmittance</text>
<text transform="translate(1405.7 400.65) rotate(-90) scale(0.9939 1)" font-size="33" fill="#ff0000">Quality factor (Q)</text>
<text transform="translate(904.83 332) scale(0.8152 1)" font-size="30.4" fill="#ff0000">Q PEC</text>
<text transform="translate(723.41 33.89) scale(0.8807 1)" font-size="38.62" fill="#000" font-weight="bold">(</text>
<text transform="translate(736.54 35.78) scale(1.0132 1)" font-size="42.89" fill="#000" font-weight="bold">b</text>
<text transform="translate(765.17 33.89) scale(0.8807 1)" font-size="38.62" fill="#000" font-weight="bold">)</text>
<line x1="954.2" y1="1167.1" x2="954.2" y2="1160.8" stroke="#1e1e1e" stroke-width="2"/>
<line x1="954.2" y1="714" x2="954.2" y2="720.3" stroke="#1e1e1e" stroke-width="2"/>
<line x1="1045.9" y1="1167.1" x2="1045.9" y2="1160.8" stroke="#1e1e1e" stroke-width="2"/>
<line x1="1045.9" y1="714" x2="1045.9" y2="720.3" stroke="#1e1e1e" stroke-width="2"/>
<line x1="1137.7" y1="1167.1" x2="1137.7" y2="1160.8" stroke="#1e1e1e" stroke-width="2"/>
<line x1="1137.7" y1="714" x2="1137.7" y2="720.3" stroke="#1e1e1e" stroke-width="2"/>
<line x1="1229.5" y1="1167.1" x2="1229.5" y2="1160.8" stroke="#1e1e1e" stroke-width="2"/>
<line x1="1229.5" y1="714" x2="1229.5" y2="720.3" stroke="#1e1e1e" stroke-width="2"/>
<line x1="862.3" y1="759.31" x2="868.6" y2="759.31" stroke="#0000ff" stroke-width="2"/>
<line x1="862.3" y1="804.62" x2="868.6" y2="804.62" stroke="#0000ff" stroke-width="2"/>
<line x1="862.3" y1="849.93" x2="868.6" y2="849.93" stroke="#0000ff" stroke-width="2"/>
<line x1="862.3" y1="895.24" x2="868.6" y2="895.24" stroke="#0000ff" stroke-width="2"/>
<line x1="862.3" y1="940.55" x2="868.6" y2="940.55" stroke="#0000ff" stroke-width="2"/>
<line x1="862.3" y1="985.86" x2="868.6" y2="985.86" stroke="#0000ff" stroke-width="2"/>
<line x1="862.3" y1="1031.17" x2="868.6" y2="1031.17" stroke="#0000ff" stroke-width="2"/>
<line x1="862.3" y1="1076.48" x2="868.6" y2="1076.48" stroke="#0000ff" stroke-width="2"/>
<line x1="862.3" y1="1121.79" x2="868.6" y2="1121.79" stroke="#0000ff" stroke-width="2"/>
<line x1="1322.6" y1="789.52" x2="1317.1" y2="789.52" stroke="#ff0000" stroke-width="2"/>
<line x1="1322.6" y1="865.03" x2="1317.1" y2="865.03" stroke="#ff0000" stroke-width="2"/>
<line x1="1322.6" y1="940.55" x2="1317.1" y2="940.55" stroke="#ff0000" stroke-width="2"/>
<line x1="1322.6" y1="1016.07" x2="1317.1" y2="1016.07" stroke="#ff0000" stroke-width="2"/>
<line x1="1322.6" y1="1091.58" x2="1317.1" y2="1091.58" stroke="#ff0000" stroke-width="2"/>
<line x1="862.3" y1="713" x2="862.3" y2="1168.1" stroke="#0000ff" stroke-width="2.2"/>
<line x1="861.2" y1="714" x2="1323.6" y2="714" stroke="#1e1e1e" stroke-width="2.3"/>
<line x1="861.2" y1="1167.1" x2="1323.6" y2="1167.1" stroke="#1e1e1e" stroke-width="2.1"/>
<line x1="1322.6" y1="712.8" x2="1322.6" y2="1168.2" stroke="#ff0000" stroke-width="2.2"/>
<line x1="861.8" y1="718.3" x2="1321.5" y2="718.3" stroke="#ff0000" stroke-width="2.3" stroke-dasharray="9 8.6"/>
<circle cx="906.9" cy="1138.2" r="9.3" fill="url(#gb)"/>
<circle cx="954" cy="1092.7" r="9.3" fill="url(#gb)"/>
<circle cx="1045.6" cy="1020.4" r="9.3" fill="url(#gb)"/>
<circle cx="1138.4" cy="975.3" r="9.3" fill="url(#gb)"/>
<circle cx="1230.9" cy="951.3" r="9.3" fill="url(#gb)"/>
<circle cx="1323" cy="943.8" r="9.3" fill="url(#gb)"/>
<circle cx="906.9" cy="1062.6" r="9.3" fill="url(#gr)"/>
<circle cx="954" cy="989.6" r="9.3" fill="url(#gr)"/>
<circle cx="1045.6" cy="920.3" r="9.3" fill="url(#gr)"/>
<circle cx="1138.4" cy="874.3" r="9.3" fill="url(#gr)"/>
<circle cx="1230.9" cy="854.8" r="9.3" fill="url(#gr)"/>
<circle cx="1323" cy="849.8" r="9.3" fill="url(#gr)"/>
<text transform="translate(815.38 719.5) scale(0.9364 1)" font-size="32.5" fill="#0000ff">1.0</text>
<text transform="translate(812.56 765.7) scale(0.9730 1)" font-size="32.5" fill="#0000ff">0.9</text>
<text transform="translate(812.56 810.8) scale(0.9730 1)" font-size="32.5" fill="#0000ff">0.8</text>
<text transform="translate(812.56 855.9) scale(0.9730 1)" font-size="32.5" fill="#0000ff">0.7</text>
<text transform="translate(812.56 901) scale(0.9730 1)" font-size="32.5" fill="#0000ff">0.6</text>
<text transform="translate(812.56 946.1) scale(0.9730 1)" font-size="32.5" fill="#0000ff">0.5</text>
<text transform="translate(812.56 991.2) scale(0.9730 1)" font-size="32.5" fill="#0000ff">0.4</text>
<text transform="translate(812.56 1036.3) scale(0.9730 1)" font-size="32.5" fill="#0000ff">0.3</text>
<text transform="translate(812.56 1081.4) scale(0.9730 1)" font-size="32.5" fill="#0000ff">0.2</text>
<text transform="translate(812.56 1126.5) scale(0.9730 1)" font-size="32.5" fill="#0000ff">0.1</text>
<text transform="translate(812.56 1171.6) scale(0.9730 1)" font-size="32.5" fill="#0000ff">0.0</text>
<text transform="translate(1329.2 728.8) scale(1.0292 1)" font-size="32.5" fill="#ff0000">60</text>
<text transform="translate(1330.41 801.5) scale(0.9947 1)" font-size="32.5" fill="#ff0000">50</text>
<text transform="translate(1329.23 879.6) scale(1.0312 1)" font-size="32.5" fill="#ff0000">40</text>
<text transform="translate(1330.16 952.2) scale(1.0047 1)" font-size="32.5" fill="#ff0000">30</text>
<text transform="translate(1329.94 1025.6) scale(1.0137 1)" font-size="32.5" fill="#ff0000">20</text>
<text transform="translate(1331.31 1102.9) scale(0.9659 1)" font-size="32.5" fill="#ff0000">10</text>
<text transform="translate(1330.06 1170.1) scale(0.9784 1)" font-size="32.5" fill="#ff0000">0</text>
<text transform="translate(852.58 1207.3) scale(1.0363 1)" font-size="32.5" fill="#000">0</text>
<text transform="translate(930.4 1207.3) scale(0.9707 1)" font-size="32.5" fill="#000">100</text>
<text transform="translate(1020.47 1207.3) scale(0.9957 1)" font-size="32.5" fill="#000">200</text>
<text transform="translate(1112.38 1207.3) scale(0.9823 1)" font-size="32.5" fill="#000">300</text>
<text transform="translate(1203.24 1207.3) scale(1.0190 1)" font-size="32.5" fill="#000">400</text>
<text transform="translate(1298.19 1207.3) scale(1.0067 1)" font-size="32.5" fill="#000">500</text>
<text transform="translate(948.71 1252.6) scale(0.9653 1)" font-size="34.2" fill="#000">metal thickness (nm)</text>
<text transform="translate(792.5 1029.94) rotate(-90) scale(0.9694 1)" font-size="34" fill="#0000ff">Transmittance</text>
<text transform="translate(1406.7 1054.45) rotate(-90) scale(0.9939 1)" font-size="33" fill="#ff0000">Quality factor (Q)</text>
<text transform="translate(961.73 752.2) scale(0.8141 1)" font-size="30.4" fill="#ff0000">Q PEC</text>
<text transform="translate(721.31 684.11) scale(0.8832 1)" font-size="38.51" fill="#000" font-weight="bold">(</text>
<text transform="translate(734.83 686.28) scale(0.9945 1)" font-size="43.3" fill="#000" font-weight="bold">d</text>
<text transform="translate(763.17 684.11) scale(0.8832 1)" font-size="38.51" fill="#000" font-weight="bold">)</text>
</svg>
</body></html>
